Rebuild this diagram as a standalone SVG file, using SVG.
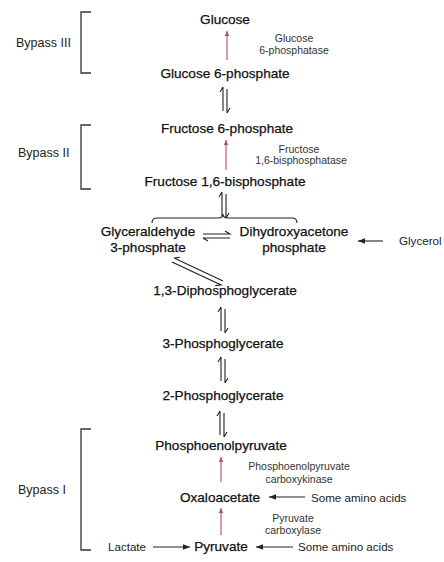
<svg xmlns="http://www.w3.org/2000/svg" width="444" height="562" viewBox="0 0 444 562">
<defs>
<style>
.main{font-family:"Liberation Sans",Arial,sans-serif;font-size:13.6px;fill:#111;stroke:#111;stroke-width:0.25;text-anchor:middle}
.enz{font-family:"Liberation Sans",Arial,sans-serif;font-size:10.5px;fill:#333;text-anchor:middle}
.side{font-family:"Liberation Sans",Arial,sans-serif;font-size:11.6px;fill:#222}
.byp{font-family:"Liberation Sans",Arial,sans-serif;font-size:12.5px;fill:#222}
.ln{fill:none;stroke:#222;stroke-width:1.1}
.br{fill:none;stroke:#333;stroke-width:1.3}
.red{fill:none;stroke:#b4505f;stroke-width:1.1;marker-end:url(#rh)}
.blk{fill:none;stroke:#222;stroke-width:1.1;marker-end:url(#bh)}
</style>
<marker id="rh" markerWidth="6" markerHeight="6" refX="5" refY="3" orient="auto" markerUnits="userSpaceOnUse">
<path d="M0,0.8 L5,3 L0,5.2 Z" fill="#b4505f"/>
</marker>
<marker id="bh" markerWidth="8" markerHeight="8" refX="7" refY="4" orient="auto" markerUnits="userSpaceOnUse">
<path d="M0,1.2 L7,4 L0,6.8 Z" fill="#222"/>
</marker>
<path id="eqv" d="M-2,0 V24 M-2,0 L-5,5 M2,2 V26 M2,26 L5,21"/>
</defs>

<g id="brackets">
<g id="bypass3"><path class="br" d="M91,12 H81 V73 H91"/><text class="byp" x="16" y="47">Bypass III</text></g>
<g id="bypass2"><path class="br" d="M91,125 H81 V189 H91"/><text class="byp" x="18" y="157">Bypass II</text></g>
<g id="bypass1"><path class="br" d="M91,429 H81 V550 H91"/><text class="byp" x="18" y="494">Bypass I</text></g>
</g>

<g id="connectors">
<path class="red" d="M227,60 V31"/>
<use href="#eqv" class="ln" transform="translate(225,87)"/>
<path class="red" d="M226,170 V140"/>
<use href="#eqv" class="ln" transform="translate(224,192)"/>
<path class="ln" d="M152,223 Q152,218 157,218 H218 Q223,218 223,214 Q223,218 228,218 H292 Q297,218 297,223"/>
<path class="ln" d="M203,234 H230 L225,231 M203,238 H230 M203,238 L208,241"/>
<path class="blk" d="M383,241 H358"/>
<path class="ln" d="M174,258 L223,281 M174,258 L179.8,257.4 M172,262 L221,285 L215.2,285.6"/>
<use href="#eqv" class="ln" transform="translate(223,307)"/>
<use href="#eqv" class="ln" transform="translate(223,357)"/>
<use href="#eqv" class="ln" transform="translate(222,411)"/>
<path class="red" d="M221,482 V457"/>
<path class="blk" d="M305,497 H269"/>
<path class="red" d="M221,535 V508"/>
<path class="blk" d="M153,547 H190"/>
<path class="blk" d="M293,547 H256"/>
</g>

<g id="glucose"><text class="main" x="225" y="24">Glucose</text></g>
<g id="g6pase"><text class="enz" x="294" y="42">Glucose</text><text class="enz" x="294" y="54">6-phosphatase</text></g>
<g id="g6p"><text class="main" x="225" y="78">Glucose 6-phosphate</text></g>
<g id="f6p"><text class="main" x="227" y="133">Fructose 6-phosphate</text></g>
<g id="fbpase"><text class="enz" x="299" y="153">Fructose</text><text class="enz" x="301" y="164">1,6-bisphosphatase</text></g>
<g id="f16bp"><text class="main" x="225" y="186">Fructose 1,6-bisphosphate</text></g>
<g id="gap"><text class="main" x="148" y="236">Glyceraldehyde</text><text class="main" x="148" y="252">3-phosphate</text></g>
<g id="dhap"><text class="main" x="294" y="236">Dihydroxyacetone</text><text class="main" x="294" y="252">phosphate</text></g>
<g id="glycerol"><text class="side" x="399" y="245">Glycerol</text></g>
<g id="dpg"><text class="main" x="225" y="295">1,3-Diphosphoglycerate</text></g>
<g id="pg3"><text class="main" x="223" y="348">3-Phosphoglycerate</text></g>
<g id="pg2"><text class="main" x="223" y="400">2-Phosphoglycerate</text></g>
<g id="pep"><text class="main" x="221" y="450">Phosphoenolpyruvate</text></g>
<g id="pepck"><text class="enz" x="299" y="470">Phosphoenolpyruvate</text><text class="enz" x="299" y="483">carboxykinase</text></g>
<g id="oaa"><text class="main" x="220" y="502">Oxaloacetate</text></g>
<g id="aa1"><text class="side" x="311" y="502">Some amino acids</text></g>
<g id="pc"><text class="enz" x="293" y="522">Pyruvate</text><text class="enz" x="293" y="534">carboxylase</text></g>
<g id="lactate"><text class="side" x="108" y="551">Lactate</text></g>
<g id="pyruvate"><text class="main" x="221" y="551">Pyruvate</text></g>
<g id="aa2"><text class="side" x="298" y="551">Some amino acids</text></g>
</svg>
